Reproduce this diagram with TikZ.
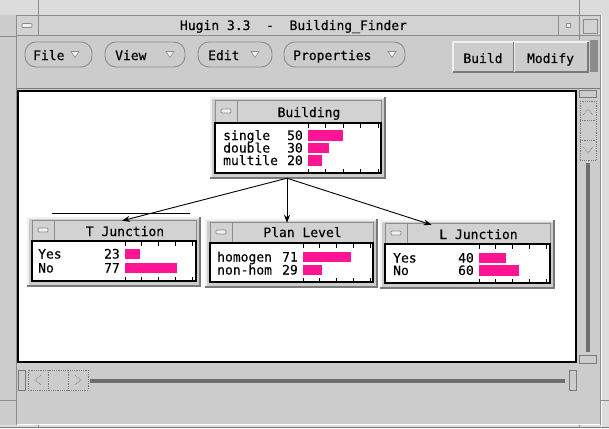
\documentclass[tikz,border=0pt]{standalone}
\usepackage{fontspec}
\newfontfamily\monofont[FakeBold=0.3]{DejaVu Sans Mono}
\usetikzlibrary{arrows.meta,fit}

\definecolor{winbg}{HTML}{CCCCCC}
\definecolor{winstrip}{HTML}{DCDCDC}
\definecolor{winlight}{HTML}{F0F0F0}
\definecolor{winshade}{HTML}{7A7A7A}
\definecolor{winedge}{HTML}{8C8C8C}
\definecolor{titlefill}{HTML}{D2D2D2}
\definecolor{sliderdark}{HTML}{6E6E6E}
\definecolor{barpink}{HTML}{FF1493}

\tikzset{
  txt/.style={inner sep=0pt, font=\monofont\fontsize{13}{15}\selectfont},
  edge/.style={draw=winedge, line width=0.8pt},
  tick/.style={draw=black, line width=0.9pt},
  conn/.style={draw=black, line width=0.9pt, -{Stealth[length=8pt,width=6pt]}},
  pill/.style={draw=winedge, line width=0.9pt, fill=winbg, rounded corners=11pt},
  menutri/.style={draw=winedge, fill=winlight, line width=0.6pt},
  dotbox/.style={draw=winshade, densely dotted, line width=0.8pt},
  knob/.style={draw=winshade, fill=winbg, line width=0.8pt},
}

% monitor window: #1 name, #2 left, #3 right, #4 title top, #5 title bottom,
% #6 content bottom, #7 title, #8 title baseline
\newcommand\monitorwin[8]{%
  \fill[winbg] ({#2-5},{#4-3}) rectangle ({#3+5},{#6+6});
  \draw[winlight, line width=1.5pt] ({#2-4.25},{#6+6}) -- ({#2-4.25},{#4-2.25}) -- ({#3+5},{#4-2.25});
  \draw[winshade, line width=2pt] ({#2-5},{#6+5}) -- ({#3+4},{#6+5}) -- ({#3+4},{#4-3});
  \node[fit={({#2-5},{#4-3}) ({#3+5},{#6+6})}, inner sep=0pt] (#1) {};
  \draw[edge, fill=titlefill] (#2,#4) rectangle (#3,#5);
  \draw[edge] ({#2+22},#4) -- ({#2+22},#5);
  \draw[edge, fill=winlight, rounded corners=1pt] ({#2+6},{(#4+#5)/2-2}) rectangle ({#2+16},{(#4+#5)/2+2});
  \node[txt, anchor=base] (#1-title) at ({(#2+22+#3)/2},#8) {#7};
  \draw[line width=2pt, fill=white] (#2,{#5+1}) rectangle (#3,#6);
}

% one state line: #1 name, #2 label x, #3 number right x, #4 baseline,
% #5 label, #6 value, #7 bar start x, #8 bar length for 100
\newcommand\staterow[8]{%
  \node[txt, anchor=base west] (#1-l) at (#2,#4) {#5};
  \node[txt, anchor=base east] (#1-v) at (#3,#4) {#6};
  \fill[barpink] (#7,{#4-10}) rectangle ({#7+#6*#8/100},{#4+0.5});
}

% scale ticks: #1 start x, #2 length, #3 top y, #4 bottom y
\newcommand\scaleticks[4]{%
  \foreach \k in {0,...,4}{%
    \draw[tick] ({#1+\k*#2/4},#3) -- ++(0,3.5);
    \draw[tick] ({#1+\k*#2/4},#4) -- ++(0,-3.5);
  }%
}

\begin{document}
\begin{tikzpicture}[x=1pt,y=-1pt]
\useasboundingbox (0,0) rectangle (609,428);

% ---- application window ----
\fill[winbg] (0,0) rectangle (609,428);
\fill[winstrip] (0,0) rectangle (609,15);
\fill[winstrip] (600,15) rectangle (609,428);
\fill[winstrip] (0,425) rectangle (609,428);
\draw[white, line width=1pt] (601.5,15) -- (601.5,428);
\draw[white, line width=1pt] (16,424.5) -- (600,424.5);
\draw[winshade, line width=1pt] (0,427.5) -- (609,427.5);
\draw[edge] (16,15) -- (16,425);
\draw[edge] (600,15) -- (600,425);
\draw[edge] (0,400) -- (16,400);
\draw[edge] (600,400) -- (609,400);
\draw[edge] (38,425) -- (38,428);
\draw[edge] (579,425) -- (579,428);

% title bar
\draw[edge, fill=titlefill] (16,15) rectangle (600,35.5);
\draw[edge] (38,0) -- (38,36);
\draw[edge] (0,36) -- (16,36);
\draw[edge, fill=winlight, rounded corners=1pt] (22,23.5) rectangle (32,27.5);
\node[txt, anchor=base] (wintitle) at (293.5,30) {Hugin 3.3~~-~~Building\_Finder};
\draw[edge] (558,15) -- (558,35.5);
\draw[edge, fill=winlight] (566,23.5) rectangle (570,27.5);
\draw[edge] (579,0) -- (579,40);
\draw[edge, fill=titlefill] (583,19) rectangle (597,33);

% menu bar
\node[pill, minimum width=67pt, minimum height=25pt] (mfile) at (58.5,54.5) {};
\node[txt, anchor=base west] (mfile-t) at (33,60) {File};
\draw[menutri] (71,51.5) -- (79,51.5) -- (75,57.5) -- cycle;
\node[pill, minimum width=80pt, minimum height=25pt] (mview) at (145,54.5) {};
\node[txt, anchor=base west] (mview-t) at (115,60) {View};
\draw[menutri] (166,51.5) -- (174,51.5) -- (170,57.5) -- cycle;
\node[pill, minimum width=74pt, minimum height=25pt] (medit) at (235,54.5) {};
\node[txt, anchor=base west] (medit-t) at (208,60) {Edit};
\draw[menutri] (251,51.5) -- (259,51.5) -- (255,57.5) -- cycle;
\node[pill, minimum width=121pt, minimum height=25pt] (mprop) at (344.5,54.5) {};
\node[txt, anchor=base west] (mprop-t) at (293,60) {Properties};
\draw[menutri] (388,51.5) -- (396,51.5) -- (392,57.5) -- cycle;

% mode buttons
\draw[winlight, line width=1.2pt] (453,72) -- (453,42) -- (588,42);
\draw[winshade, line width=1.2pt] (453,72) -- (588,72) -- (588,42);
\draw[winlight, line width=1pt] (514,42) -- (514,72);
\draw[winshade, line width=1pt] (513,42) -- (513,72);
\node[txt, anchor=base] (bbuild) at (483,63) {Build};
\node[txt, anchor=base] (bmodify) at (550.5,63) {Modify};
\fill[winedge] (590,40) rectangle (598,72);

% drawing area
\draw[winshade, line width=1pt] (16,88) -- (600,88);
\draw[black, line width=1.6pt, fill=white] (18,91) rectangle (576,362);

% horizontal scroll bar
\draw[knob] (18,370) rectangle (25,390);
\draw[dotbox] (28,370) rectangle (88,390);
\draw[dotbox] (48,370) -- (48,390);
\draw[dotbox] (68,370) -- (68,390);
\draw[dotbox] (41,375.5) -- (35,380) -- (41,384.5);
\draw[dotbox] (75,375.5) -- (81,380) -- (75,384.5);
\draw[sliderdark, line width=3.5pt] (90,381) -- (565,381);
\draw[knob] (569,370) rectangle (576,390);

% vertical scroll bar
\draw[knob] (579,90) rectangle (596,97);
\draw[dotbox] (580,101) rectangle (596,160);
\draw[dotbox] (580,120) -- (596,120);
\draw[dotbox] (580,140) -- (596,140);
\draw[dotbox] (583.5,115) -- (588,109) -- (592.5,115);
\draw[dotbox] (583.5,147) -- (588,153) -- (592.5,147);
\draw[sliderdark, line width=3.5pt] (588,163) -- (588,352);
\draw[knob] (579,355) rectangle (596,363);

% ---- Building ----
\monitorwin{bld}{215}{381}{100}{122}{173}{Building}{117}
\scaleticks{308}{70}{124}{172}
\staterow{bld1}{223}{303}{140}{single}{50}{308}{70}
\staterow{bld2}{223}{303}{152.5}{double}{30}{308}{70}
\staterow{bld3}{223}{303}{165}{multile}{20}{308}{70}

% ---- T Junction ----
\monitorwin{tj}{32}{196}{220}{240}{281}{T Junction}{236}
\scaleticks{125}{67}{242}{280}
\staterow{tj1}{38}{120}{258.5}{Yes}{23}{125}{67}
\staterow{tj2}{38}{120}{272.5}{No}{77}{125}{67}

% ---- Plan Level ----
\monitorwin{pl}{210}{373}{222}{242}{282}{Plan Level}{237}
\scaleticks{303}{67}{244}{281}
\staterow{pl1}{217}{298}{261.5}{homogen}{71}{303}{67}
\staterow{pl2}{217}{298}{274.5}{non-hom}{29}{303}{67}

% ---- L Junction ----
\monitorwin{lj}{385}{550}{223}{243}{283}{L Junction}{239}
\scaleticks{479}{67}{245}{282}
\staterow{lj1}{393}{474}{262.5}{Yes}{40}{479}{67}
\staterow{lj2}{393}{474}{275}{No}{60}{479}{67}

% ---- links ----
\coordinate (bldout) at ([xshift=-11pt,yshift=1pt]bld.south);
\coordinate (tjbarW) at (52,213);
\coordinate (tjbarE) at (190,213);
\coordinate (tjin) at ([xshift=8pt,yshift=-4pt]tj.north);
\coordinate (plin) at ([xshift=-4.5pt,yshift=-4pt]pl.north);
\coordinate (ljin) at ([xshift=-36pt,yshift=-5pt]lj.north);
\draw[black, line width=1pt] (tjbarW) -- (tjbarE);
\draw[conn] (bldout) -- (tjin);
\draw[conn] (bldout) -- (plin);
\draw[conn] (bldout) -- (ljin);
\end{tikzpicture}
\end{document}
